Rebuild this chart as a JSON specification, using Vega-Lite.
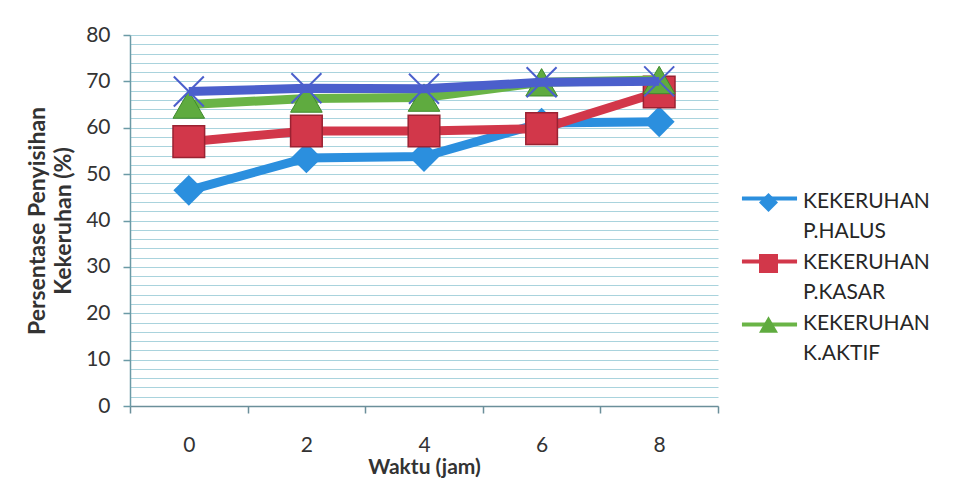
{
  "$schema": "https://vega.github.io/schema/vega-lite/v6.json",
  "width": 588,
  "height": 371,
  "autosize": {"type": "none"},
  "padding": {"left": 130, "top": 35, "right": 237, "bottom": 73},
  "background": "white",
  "config": {
    "font": "Lato",
    "view": {"stroke": null},
    "axis": {"labelFont": "Lato", "titleFont": "Lato"},
    "legend": {"labelFont": "Lato"}
  },
  "datasets": {
    "main": [
      {"waktu": 0, "seri": "KEKERUHAN P.HALUS", "nilai": 46.5},
      {"waktu": 2, "seri": "KEKERUHAN P.HALUS", "nilai": 53.5},
      {"waktu": 4, "seri": "KEKERUHAN P.HALUS", "nilai": 53.8},
      {"waktu": 6, "seri": "KEKERUHAN P.HALUS", "nilai": 61.0},
      {"waktu": 8, "seri": "KEKERUHAN P.HALUS", "nilai": 61.3},
      {"waktu": 0, "seri": "KEKERUHAN P.KASAR", "nilai": 57.0},
      {"waktu": 2, "seri": "KEKERUHAN P.KASAR", "nilai": 59.3},
      {"waktu": 4, "seri": "KEKERUHAN P.KASAR", "nilai": 59.3},
      {"waktu": 6, "seri": "KEKERUHAN P.KASAR", "nilai": 59.8},
      {"waktu": 8, "seri": "KEKERUHAN P.KASAR", "nilai": 67.7},
      {"waktu": 0, "seri": "KEKERUHAN K.AKTIF", "nilai": 65.0},
      {"waktu": 2, "seri": "KEKERUHAN K.AKTIF", "nilai": 66.3},
      {"waktu": 4, "seri": "KEKERUHAN K.AKTIF", "nilai": 66.5},
      {"waktu": 6, "seri": "KEKERUHAN K.AKTIF", "nilai": 69.8},
      {"waktu": 8, "seri": "KEKERUHAN K.AKTIF", "nilai": 70.3}
    ],
    "extra": [
      {"waktu": 0, "nilai": 67.8},
      {"waktu": 2, "nilai": 68.5},
      {"waktu": 4, "nilai": 68.4},
      {"waktu": 6, "nilai": 69.8},
      {"waktu": 8, "nilai": 70.0}
    ]
  },
  "resolve": {"axis": {"x": "independent", "y": "independent"}},
  "layer": [
    {
      "data": {"name": "main"},
      "transform": [{"filter": "datum.seri === 'KEKERUHAN P.HALUS'"}],
      "mark": {"type": "line", "strokeWidth": 9},
      "encoding": {
        "x": {
          "field": "waktu", "type": "quantitative",
          "scale": {"domain": [-1, 9], "nice": false, "zero": false},
          "axis": {
            "orient": "bottom",
            "values": [0, 2, 4, 6, 8],
            "ticks": false,
            "domain": true,
            "domainColor": "#6b8f9a",
            "domainWidth": 1.5,
            "grid": false,
            "labelFontSize": 21,
            "labelColor": "#333333",
            "labelPadding": 28,
            "title": "Waktu (jam)",
            "titleFontSize": 21,
            "titleFontWeight": "bold",
            "titleColor": "#333333",
            "titlePadding": 1
          }
        },
        "y": {
          "field": "nilai", "type": "quantitative",
          "scale": {"domain": [0, 80], "nice": false},
          "axis": {
            "orient": "left",
            "values": [0,2,4,6,8,10,12,14,16,18,20,22,24,26,28,30,32,34,36,38,40,42,44,46,48,50,52,54,56,58,60,62,64,66,68,70,72,74,76,78,80],
            "labelExpr": "datum.value % 10 === 0 ? datum.label : ''",
            "ticks": false,
            "grid": true,
            "gridColor": "#a9d3dd",
            "gridWidth": 1,
            "domain": true,
            "domainColor": "#6b9aa6",
            "domainWidth": 1.5,
            "labelFontSize": 21,
            "labelColor": "#333333",
            "labelPadding": 20,
            "title": ["Persentase Penyisihan", "Kekeruhan (%)"],
            "titleFontSize": 23,
            "titleFontWeight": "bold",
            "titleColor": "#333333",
            "titleLineHeight": 26,
            "titlePadding": 10
          }
        },
        "stroke": {
          "field": "seri", "type": "nominal", "title": null,
          "scale": {"domain": ["KEKERUHAN K.AKTIF", "KEKERUHAN P.HALUS", "KEKERUHAN P.KASAR"], "range": ["#6ab446", "#2b8fde", "#d2374a"]},
          "legend": {
            "orient": "right",
            "offset": -112,
            "padding": 152,
            "values": ["KEKERUHAN P.HALUS", "KEKERUHAN P.KASAR", "KEKERUHAN K.AKTIF"],
            "labelExpr": "''",
            "labelFontSize": 21,
            "labelLimit": 300,
            "labelOffset": 24,
            "symbolType": "M-2.9,0L2.9,0",
            "symbolSize": 361,
            "symbolStrokeWidth": 4,
            "symbolFillColor": "transparent",
            "rowPadding": 41
          }
        }
      }
    },
    {
      "data": {"name": "main"},
      "transform": [{"filter": "datum.seri === 'KEKERUHAN P.HALUS'"}],
      "mark": {"type": "point", "filled": true, "size": 950, "opacity": 1, "strokeWidth": 1},
      "encoding": {
        "x": {"field": "waktu", "type": "quantitative", "axis": {"orient": "bottom", "values": [-1, 1, 3, 5, 7, 9], "labels": false, "domain": false, "grid": false, "ticks": true, "tickSize": 7, "tickColor": "#6b8f9a", "tickWidth": 1.5, "title": null}},
        "y": {"field": "nilai", "type": "quantitative", "axis": {"orient": "left", "values": [0, 10, 20, 30, 40, 50, 60, 70, 80], "labels": false, "domain": false, "grid": false, "ticks": true, "tickSize": 7, "tickColor": "#6b9aa6", "tickWidth": 1.5, "title": null}},
        "color": {
          "field": "seri", "type": "nominal", "title": null,
          "scale": {"domain": ["KEKERUHAN P.HALUS", "KEKERUHAN P.KASAR", "KEKERUHAN K.AKTIF"], "range": ["#2b8fde", "#d2374a", "#5fab3f"]},
          "legend": {
            "orient": "none",
            "legendX": 628,
            "legendY": 157,
            "labelExpr": "split(datum.label, ' ')",
            "labelFontSize": 21,
            "labelColor": "#262626",
            "labelLimit": 300,
            "labelOffset": 24,
            "labelBaseline": "top",
            "symbolSize": 361,
            "symbolStrokeWidth": 0,
            "rowPadding": 9,
            "encoding": {"labels": {"lineHeight": {"value": 30}, "dy": {"value": -12}}}
          }
        },
        "shape": {
          "field": "seri", "type": "nominal", "title": null,
          "scale": {"domain": ["KEKERUHAN P.HALUS", "KEKERUHAN P.KASAR", "KEKERUHAN K.AKTIF"], "range": ["diamond", "square", "triangle-up"]}
        }
      }
    },
    {
      "data": {"name": "main"},
      "transform": [{"filter": "datum.seri === 'KEKERUHAN P.KASAR'"}],
      "mark": {"type": "line", "strokeWidth": 9},
      "encoding": {
        "x": {"field": "waktu", "type": "quantitative", "axis": null},
        "y": {"field": "nilai", "type": "quantitative", "axis": null},
        "stroke": {"field": "seri", "type": "nominal", "title": null}
      }
    },
    {
      "data": {"name": "main"},
      "transform": [{"filter": "datum.seri === 'KEKERUHAN P.KASAR'"}],
      "mark": {"type": "point", "filled": true, "size": 1000, "opacity": 1, "stroke": "#9a2232", "strokeWidth": 1.5},
      "encoding": {
        "x": {"field": "waktu", "type": "quantitative", "axis": null},
        "y": {"field": "nilai", "type": "quantitative", "axis": null},
        "color": {"field": "seri", "type": "nominal", "title": null},
        "shape": {"field": "seri", "type": "nominal", "title": null}
      }
    },
    {
      "data": {"name": "main"},
      "transform": [{"filter": "datum.seri === 'KEKERUHAN K.AKTIF'"}],
      "mark": {"type": "line", "strokeWidth": 9},
      "encoding": {
        "x": {"field": "waktu", "type": "quantitative", "axis": null},
        "y": {"field": "nilai", "type": "quantitative", "axis": null},
        "stroke": {"field": "seri", "type": "nominal", "title": null}
      }
    },
    {
      "data": {"name": "main"},
      "transform": [{"filter": "datum.seri === 'KEKERUHAN K.AKTIF'"}],
      "mark": {"type": "point", "filled": true, "size": 1000, "opacity": 1, "stroke": "#3f8a2e", "strokeWidth": 1},
      "encoding": {
        "x": {"field": "waktu", "type": "quantitative", "axis": null},
        "y": {"field": "nilai", "type": "quantitative", "axis": null},
        "color": {"field": "seri", "type": "nominal", "title": null},
        "shape": {"field": "seri", "type": "nominal", "title": null}
      }
    },
    {
      "data": {"name": "extra"},
      "mark": {"type": "line", "strokeWidth": 9, "color": "#4b5fcc"},
      "encoding": {
        "x": {"field": "waktu", "type": "quantitative", "axis": null},
        "y": {"field": "nilai", "type": "quantitative", "axis": null}
      }
    },
    {
      "data": {"name": "extra"},
      "mark": {"type": "point", "shape": "M-1,-1L1,1M-1,1L1,-1", "filled": false, "size": 900, "stroke": "#4b5fcc", "strokeWidth": 2, "opacity": 1},
      "encoding": {
        "x": {"field": "waktu", "type": "quantitative", "axis": null},
        "y": {"field": "nilai", "type": "quantitative", "axis": null}
      }
    }
  ]
}
